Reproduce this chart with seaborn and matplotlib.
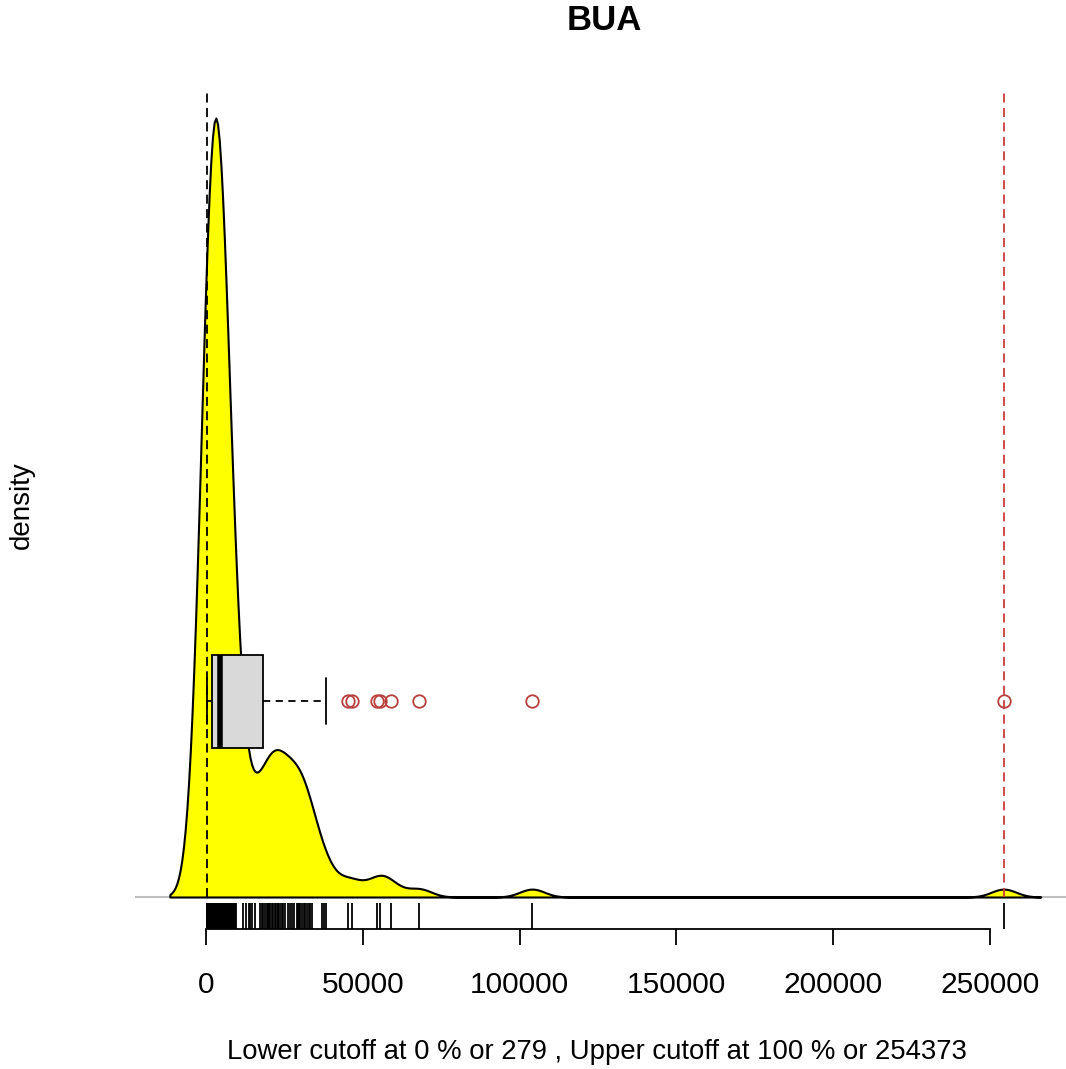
import numpy as np
import matplotlib
matplotlib.use("Agg")
import matplotlib.pyplot as plt
import seaborn as sns

# ---- data (values read from the rug / boxplot of the reference) ----
bua_low = [279, 310, 350, 390, 420, 460, 500, 530, 570, 610,
           640, 680, 720, 750, 790, 830, 860, 900, 940, 980,
           1010, 1050, 1090, 1120, 1160, 1200, 1240, 1280, 1310, 1350,
           1390, 1430, 1470, 1510, 1550, 1590, 1630, 1680, 1740, 1800, 1870]
bua_mid = [1930, 1990, 2040, 2110, 2170, 2230, 2300, 2360, 2420, 2480,
           2550, 2610, 2680, 2740, 2800, 2870, 2930, 3000, 3060, 3130,
           3190, 3260, 3320, 3390, 3450, 3510, 3580, 3640, 3700, 3770,
           3830, 3900, 3960, 4020, 4090, 4150, 4220, 4280, 4350, 4410, 4480]
bua_upper_main = [4560, 4640, 4720, 4800, 4890, 4970, 5060, 5150, 5240, 5340,
                  5440, 5550, 5660, 5780, 5900, 6030, 6160, 6300, 6450, 6600,
                  6760, 6930, 7110, 7300, 7500, 7710, 7930, 8160, 8400, 8660,
                  8940, 9250, 9700]
bua_shoulder = [11900, 12600, 13600, 14100, 14600, 15600, 17300, 17900, 18200,
                18900, 19400, 19800, 20200, 20500, 21000, 21500, 22000, 22400,
                22800, 23100, 23600, 24100, 24700, 25200, 26300, 26900, 27500,
                28200, 28900, 29200, 29500, 30000, 30500, 31100, 31600, 32100,
                32700, 33200, 33700, 36900, 37600, 38300]
bua_outliers = [45400, 46500, 54400, 55500, 59000, 68000, 104000, 254373]

lower_cutoff = 279
upper_cutoff = 254373
x_ticks = [0, 50000, 100000, 150000, 200000, 250000]
x_tick_labels = ["0", "50000", "100000", "150000", "200000", "250000"]
title_text = "BUA"
x_label = "Lower cutoff at 0 % or 279 , Upper cutoff at 100 % or 254373"
y_label = "density"

data = np.array(bua_low + bua_mid + bua_upper_main + bua_shoulder + bua_outliers, dtype=float)

# R's bw.nrd0 bandwidth
n = len(data)
q1, q3 = np.percentile(data, [25, 75])
sd = np.std(data, ddof=1)
bw = 0.9 * min(sd, (q3 - q1) / 1.34) * n ** (-0.2)
bw_factor = bw / sd

sns.set_style("white")
plt.rcParams["font.family"] = ["Liberation Sans", "DejaVu Sans"]
plt.rcParams["text.color"] = "black"
plt.rcParams["axes.labelcolor"] = "black"
plt.rcParams["xtick.color"] = "black"

W, H = 1066, 1069
fig = plt.figure(figsize=(W / 100, H / 100), dpi=100)
ax_l, ax_r, ax_t, ax_b = 135, 1066, 90, 929
ax = fig.add_axes([ax_l / W, 1 - ax_b / H, (ax_r - ax_l) / W, (ax_b - ax_t) / H])

sns.kdeplot(x=data, bw_method=bw_factor, cut=3, gridsize=512, fill=True,
            facecolor=(1, 1, 0, 1), edgecolor="black", linewidth=1.5, alpha=1,
            ax=ax, zorder=2)

verts = ax.collections[0].get_paths()[0].vertices
peak = verts[:, 1].max()

# pixel mapping in x: 0 -> 206 px, 250000 -> 990 px
px_per_unit = (990 - 206) / 250000
xlim = ((ax_l - 206) / px_per_unit, (ax_r - 206) / px_per_unit)
base_px = 897
unit_px = (base_px - 118) / peak
ylim = (-(ax_b - base_px) / unit_px, (base_px - ax_t) / unit_px)

ax.axhline(0, color="#BEBEBE", linewidth=1.5, zorder=1)

box_pos = (base_px - 701) / unit_px
box_w = 93 / unit_px
ax.boxplot(data, orientation="horizontal", positions=[box_pos], widths=box_w,
           patch_artist=True, manage_ticks=False, zorder=4,
           boxprops=dict(facecolor="#D9D9D9", edgecolor="black", linewidth=1.3),
           medianprops=dict(color="black", linewidth=4, solid_capstyle="butt"),
           whiskerprops=dict(color="black", linewidth=1.3, linestyle=(0, (4, 3))),
           capprops=dict(color="black", linewidth=1.3),
           flierprops=dict(marker="o", markerfacecolor="none", markeredgecolor="#B8403C",
                           markersize=9, markeredgewidth=1.3))

ax.vlines([lower_cutoff], 0, ylim[1], colors="black", linestyles=[(0, (5, 3))], linewidth=1.3, zorder=3)
ax.vlines([upper_cutoff], 0, ylim[1], colors="#CD3C3C", linestyles=[(0, (5, 3))], linewidth=1.3, zorder=3)

sns.rugplot(x=data, height=0.031, color="black", linewidth=1.3, ax=ax, expand_margins=False)

ax.set_xlim(xlim)
ax.set_ylim(ylim)

for s in ["left", "top", "right"]:
    ax.spines[s].set_visible(False)
ax.spines["bottom"].set_bounds(x_ticks[0], x_ticks[-1])
ax.spines["bottom"].set_linewidth(1.3)
ax.spines["bottom"].set_color("black")
ax.set_yticks([])
ax.set_xticks(x_ticks, x_tick_labels)
ax.tick_params(axis="x", direction="out", length=11.5, width=1.3, pad=19,
               labelsize=21.5, colors="black", bottom=True)

ax.set_xlabel(x_label, fontsize=19.8)
ax.xaxis.set_label_coords((597 - ax_l) / (ax_r - ax_l), (ax_b - 1052) / (ax_b - ax_t))
ax.xaxis.label.set_va("center")
ax.set_ylabel(y_label, fontsize=20)
ax.yaxis.set_label_coords((22 - ax_l) / (ax_r - ax_l), (ax_b - 505) / (ax_b - ax_t))
ax.yaxis.label.set_va("center")

t = ax.set_title(title_text, fontsize=25, fontweight="bold", color="black", pad=0,
                 y=(ax_b - 21) / (ax_b - ax_t), va="center")
t.set_x((604 - ax_l) / (ax_r - ax_l))

fig.savefig("out.png", dpi=100)
